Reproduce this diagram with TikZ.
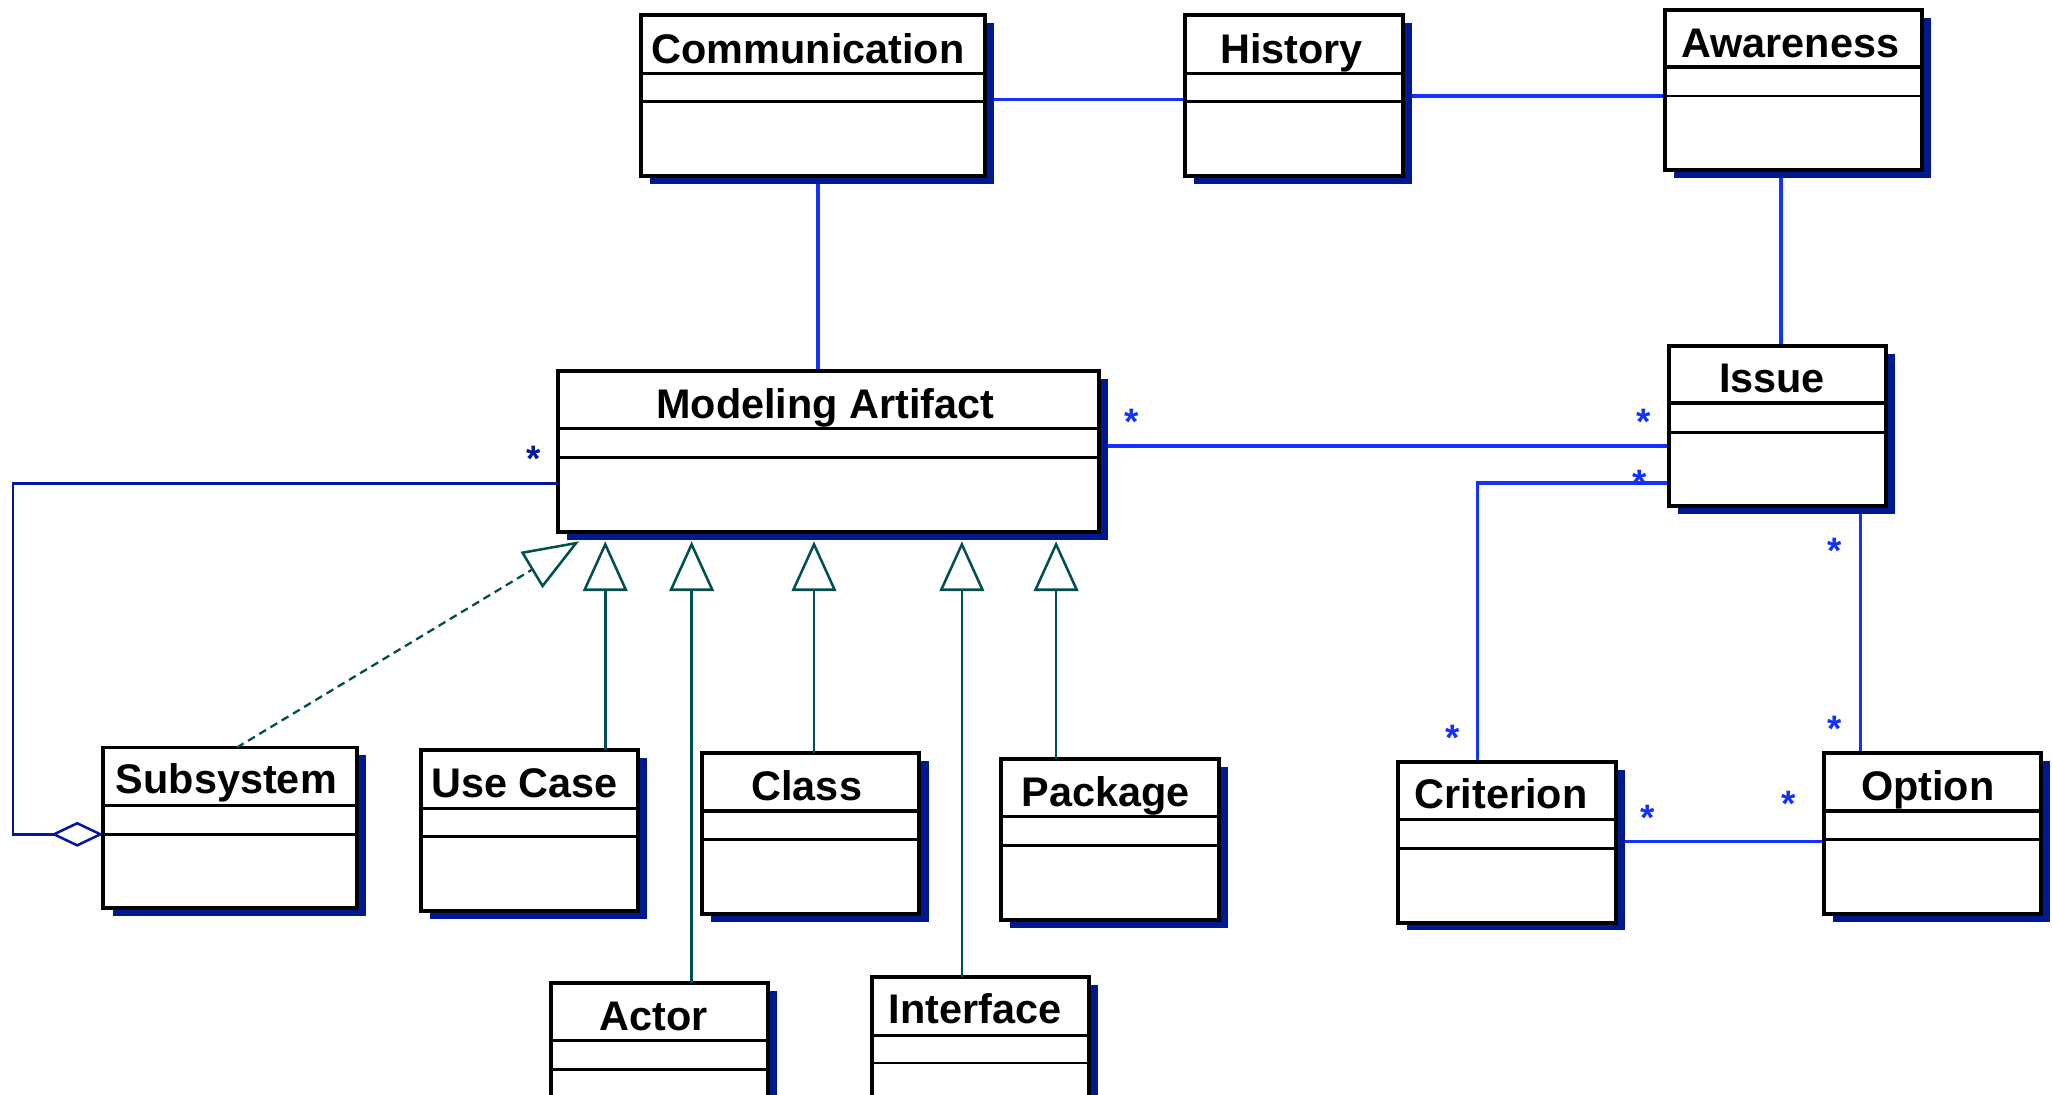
\documentclass[tikz,border=0pt]{standalone}
\usepackage{fontspec}
\setmainfont{Liberation Sans}
\usetikzlibrary{arrows.meta}
\definecolor{shadowc}{RGB}{0,24,144}
\definecolor{assocc}{RGB}{20,50,255}
\definecolor{aggc}{RGB}{0,24,160}
\definecolor{genc}{RGB}{0,80,80}
\pgfdeclarelayer{bg}
\pgfsetlayers{bg,main}
\newcommand\umlbox[7]{%
  \fill[shadowc] (#2+7,#3+6) rectangle (#4+7,#5+6);
  \node[box, minimum width={(#4-#2)*0.2mm}, minimum height={(#5-#3)*0.2mm}] (#1) at ({(#2+#4)/2},{(#3+#5)/2}) {};
  \draw[divone] (#1.west |- 0,#6) -- (#1.east |- 0,#6);
  \draw[divtwo] (#1.west |- 0,#7) -- (#1.east |- 0,#7);
}
\begin{document}
\begin{tikzpicture}[x=0.2mm,y=-0.2mm,
  box/.style={rectangle,draw=black,fill=white,line width=1.7pt,inner sep=0pt,outer sep=0pt},
  divone/.style={draw=black,line width=1.5pt},
  divtwo/.style={draw=black,line width=1.2pt},
  title/.style={anchor=base,inner sep=0pt,font=\fontsize{18}{20}\selectfont\bfseries},
  mult/.style={anchor=base,inner sep=0pt,text=assocc,font=\fontsize{16}{20}\selectfont\bfseries},
  assoc/.style={draw=assocc,line width=1.5pt},
  gen/.style={draw=genc,line width=1.2pt,-{Triangle[open,length=7.6mm,width=6.8mm,line width=1.1pt]}},
  real/.style={draw=genc,line width=1pt,dash pattern=on 1.2mm off 0.8mm,-{Triangle[open,length=8.5mm,width=6.4mm,line width=1.1pt]}},
  agg/.style={draw=aggc,line width=1.2pt,-{Diamond[open,length=8mm,width=3.8mm,line width=1.1pt]}}]
\useasboundingbox (0,0) rectangle (1568,836);
\clip (0,0) rectangle (1568,836);

\umlbox{comm}{490}{11.5}{752.5}{134.8}{56}{77.8}
\umlbox{hist}{905.5}{11.5}{1072}{134.8}{56}{77.8}
\umlbox{aware}{1272.5}{7.6}{1468.5}{130.2}{51.3}{73.4}
\umlbox{issue}{1275.5}{264.2}{1441}{386.7}{308.1}{330.5}
\umlbox{ma}{426.5}{283.8}{840}{406.6}{327.5}{349.6}
\umlbox{sub}{79}{571.2}{272.5}{694}{615.4}{637.5}
\umlbox{uc}{321.5}{573.1}{487.5}{696.2}{617.6}{639.4}
\umlbox{cls}{536.5}{575.3}{702.5}{698.6}{619.8}{641.3}
\umlbox{pkg}{765}{579.9}{931.5}{703}{623.9}{646}
\umlbox{act}{421}{751.3}{586.5}{870}{795}{817.4}
\umlbox{intf}{666.5}{746.7}{832}{870}{791.2}{812.2}
\umlbox{crit}{1068.5}{582.1}{1234.5}{705}{626.3}{648.2}
\umlbox{opt}{1394}{575.3}{1559.5}{698.6}{619.8}{641.6}

\node[title] (comm-t) at (617.5,48.6) {Communication};
\node[title] (hist-t) at (987,48.6) {History};
\node[title] (aware-t) at (1368,43.7) {Awareness};
\node[title] (issue-t) at (1354,299.6) {Issue};
\node[title] (ma-t) at (630.7,319.8) {Modeling Artifact};
\node[title] (sub-t) at (173,606.7) {Subsystem};
\node[title] (uc-t) at (400.7,609.1) {Use Case};
\node[title] (cls-t) at (616.5,611.3) {Class};
\node[title] (pkg-t) at (845,616) {Package};
\node[title] (act-t) at (499.5,787.3) {Actor};
\node[title] (intf-t) at (745,781.9) {Interface};
\node[title] (crit-t) at (1147,618.1) {Criterion};
\node[title] (opt-t) at (1473,611.3) {Option};

\node[mult,text=aggc] (s1) at (407.5,360.4) {*};
\node[mult] (s2) at (865,332) {*};
\node[mult] (s3) at (1256,332) {*};
\node[mult] (s4) at (1253,378.4) {*};
\node[mult] (s5) at (1402,430.8) {*};
\node[mult] (s6) at (1110,573.3) {*};
\node[mult] (s7) at (1402,566.5) {*};
\node[mult] (s8) at (1259,634.7) {*};
\node[mult] (s9) at (1366.5,623.8) {*};

\coordinate (mab) at ([yshift=-1.4mm]ma.south);

\begin{pgfonlayer}{bg}
\draw[assoc] (comm.east |- 0,75.9) -- (hist.west |- 0,75.9);
\draw[assoc] (hist.east |- 0,73.4) -- (aware.west |- 0,73.4);
\draw[assoc] (625,0 |- comm.south) -- (625,0 |- ma.north);
\draw[assoc] (1361,0 |- aware.south) -- (1361,0 |- issue.north);
\draw[assoc] (ma.east |- 0,340.9) -- (issue.west |- 0,340.9);
\draw[assoc] (issue.west |- 0,369.2) -| (1129,0 |- crit.north);
\draw[assoc] (1421.5,0 |- issue.south) -- (1421.5,0 |- opt.north);
\draw[assoc] (crit.east |- 0,643.2) -- (opt.west |- 0,643.2);
\end{pgfonlayer}

\draw[gen] (462.5,0 |- uc.north) -- (462.5,0 |- mab);
\draw[gen] (528.5,0 |- act.north) -- (528.5,0 |- mab);
\draw[gen] (622,0 |- cls.north) -- (622,0 |- mab);
\draw[gen] (735,0 |- intf.north) -- (735,0 |- mab);
\draw[gen] (807,0 |- pkg.north) -- (807,0 |- mab);
\draw[real] (181,0 |- sub.north) -- (442.5,0 |- mab);
\draw[agg] (ma.west |- 0,369.2) -| (10,637.5) -- (sub.west |- 0,637.5);
\end{tikzpicture}
\end{document}
